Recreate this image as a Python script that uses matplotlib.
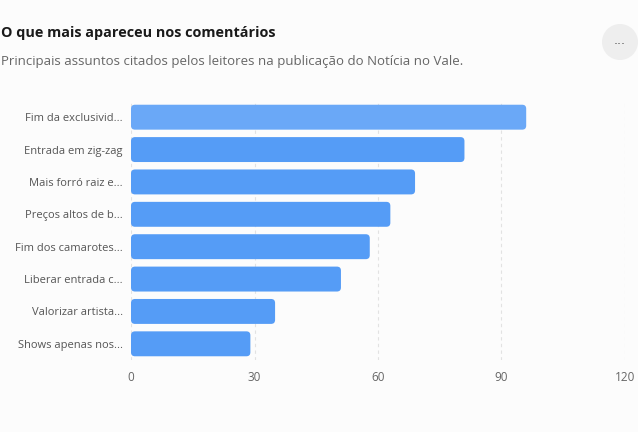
import matplotlib.pyplot as plt
from matplotlib.patches import FancyBboxPatch, Circle

plt.rcParams['font.family'] = ['Open Sans', 'DejaVu Sans']

# data (top to bottom)
labels = [
    "Fim da exclusivid...",
    "Entrada em zig-zag",
    "Mais forró raiz e...",
    "Preços altos de b...",
    "Fim dos camarotes...",
    "Liberar entrada c...",
    "Valorizar artista...",
    "Shows apenas nos...",
]
values = [96, 81, 69, 63, 58, 51, 35, 29]
bar_colors = ["#6aa8f7"] + ["#559cf6"] * 7
x_ticks = [0, 30, 60, 90, 120]

W, H = 638, 432
fig = plt.figure(figsize=(W / 100, H / 100), dpi=100)
fig.patch.set_facecolor("#fcfcfc")

ax_l, ax_r, ax_t, ax_b = 131, 625, 101, 360
ax = fig.add_axes([ax_l / W, 1 - ax_b / H, (ax_r - ax_l) / W, (ax_b - ax_t) / H])
ax.set_facecolor("#fcfcfc")

n = len(labels)
ys = list(range(n))
ax.set_xlim(0, 120)
ax.set_ylim(n - 0.5, -0.5)

bar_h = 0.77
# px per unit, so the corners stay round
px_x = (ax_r - ax_l) / 120
px_y = (ax_b - ax_t) / n
r_px = 4
for y, v, c in zip(ys, values, bar_colors):
    p = FancyBboxPatch((0, y - bar_h / 2), v, bar_h,
                       boxstyle=f"round,pad=0,rounding_size={r_px / px_x}",
                       mutation_aspect=px_x / px_y,
                       facecolor=c, edgecolor="none", zorder=3)
    ax.add_patch(p)

ax.set_yticks(ys)
ax.set_yticklabels(labels, fontsize=8, color="#555555")
ax.set_xticks(x_ticks)
ax.set_xticklabels([str(t) for t in x_ticks], fontsize=8.5, color="#666666")
ax.tick_params(length=0)
ax.tick_params(axis="y", pad=6)
ax.tick_params(axis="x", pad=8)
ax.grid(axis="x", color="#e2e2e2", linestyle=(0, (3, 3)), linewidth=0.8, zorder=0)
for s in ax.spines.values():
    s.set_visible(False)

fig.text(1 / W, 1 - 33 / H, "O que mais apareceu nos comentários",
         fontsize=10.4, fontweight="bold", color="#1a1a1a", va="center", ha="left")
fig.text(1 / W, 1 - 62 / H,
         "Principais assuntos citados pelos leitores na publicação do Notícia no Vale.",
         fontsize=9.5, color="#666666", va="center", ha="left")

# "..." menu button
btn = Circle((620 / 100, (H - 42) / 100), 0.18, transform=fig.dpi_scale_trans,
             facecolor="#eeeeee", edgecolor="none")
fig.patches.append(btn)
fig.text(620 / W, 1 - 44 / H, "...", fontsize=9, color="#555555",
         ha="center", va="baseline", family=["DejaVu Sans"])

fig.savefig("out.png", dpi=100, facecolor=fig.get_facecolor())
